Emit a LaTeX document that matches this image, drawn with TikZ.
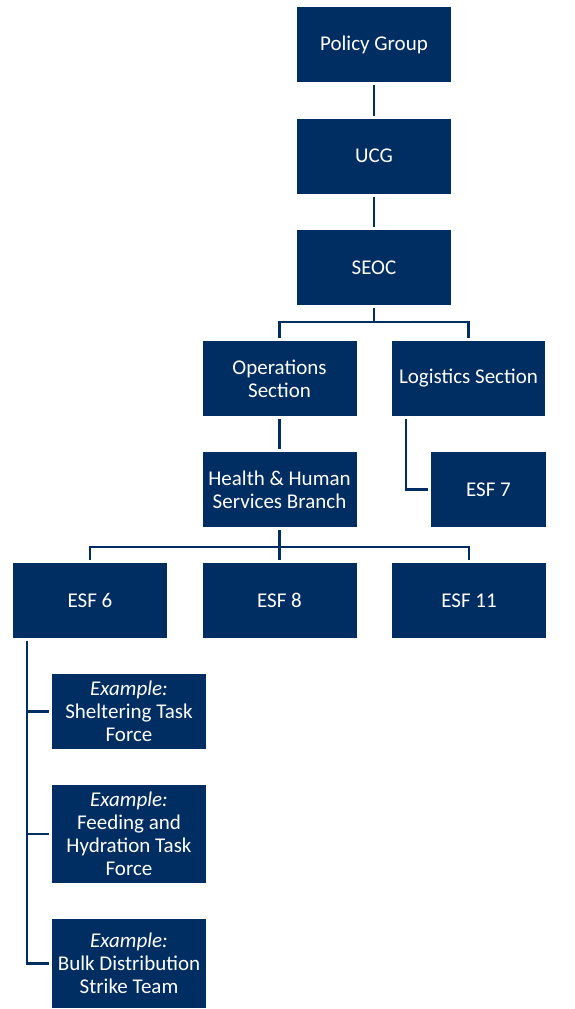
\documentclass[tikz,border=0pt]{standalone}
\usepackage{fontspec}
\setmainfont{Carlito}
\usetikzlibrary{calc}
\definecolor{navy}{RGB}{0,45,98}
\begin{document}
\begin{tikzpicture}[x=1pt,y=-1pt,
  box/.style={fill=navy, text=white, minimum width=154pt, minimum height=75pt,
    inner sep=0pt, outer sep=3pt, align=center,
    font=\fontsize{21}{23}\selectfont},
  link/.style={draw=navy, line width=2.8pt}]
\useasboundingbox (0,0) rectangle (574,1009);
\node[box] (pg) at (374,44.5) {Policy Group};
\node[box] (ucg) at (374,156) {UCG};
\node[box] (seoc) at (374,267.5) {SEOC};
\node[box] (ops) at (279.5,378.5) {Operations\\Section};
\node[box, minimum width=153pt] (log) at (468.5,378.5) {Logistics Section};
\node[box] (hhs) at (279.5,489.5) {Health \& Human\\Services Branch};
\node[box, minimum width=115pt] (esf7) at (488.5,489.5) {ESF 7};
\node[box] (esf6) at (90,600.5) {ESF 6};
\node[box] (esf8) at (279.5,600.5) {ESF 8};
\node[box] (esf11) at (469,600.5) {ESF 11};
\node[box] (ex1) at (129,711.5) {\textit{Example:}\\Sheltering Task\\Force};
\node[box, minimum height=98pt] (ex2) at (129,834) {\textit{Example:}\\Feeding and\\Hydration Task\\Force};
\node[box, minimum height=89pt] (ex3) at (129,963.5) {\textit{Example:}\\Bulk Distribution\\Strike Team};
% connectors
\draw[link] (pg.south) -- (ucg.north);
\draw[link] (ucg.south) -- (seoc.north);
\coordinate (f1) at ($(seoc.south)+(0,14)$);
\draw[link] (seoc.south) -- (f1);
\draw[link] (ops.north) |- (f1) -| (log.north);
\draw[link] ([xshift=17pt]log.south west) |- (esf7.west);
\draw[link] (ops.south) -- (hhs.north);
\coordinate (f2) at ($(hhs.south)+(0,17)$);
\draw[link] (hhs.south) -- (esf8.north);
\draw[link] (esf6.north) |- (f2) -| (esf11.north);
\coordinate (b0) at ([xshift=17pt]esf6.south west);
\draw[link] (b0) |- (ex3.west);
\draw[link] (b0 |- ex1.west) -- (ex1.west);
\draw[link] (b0 |- ex2.west) -- (ex2.west);
\end{tikzpicture}
\end{document}
